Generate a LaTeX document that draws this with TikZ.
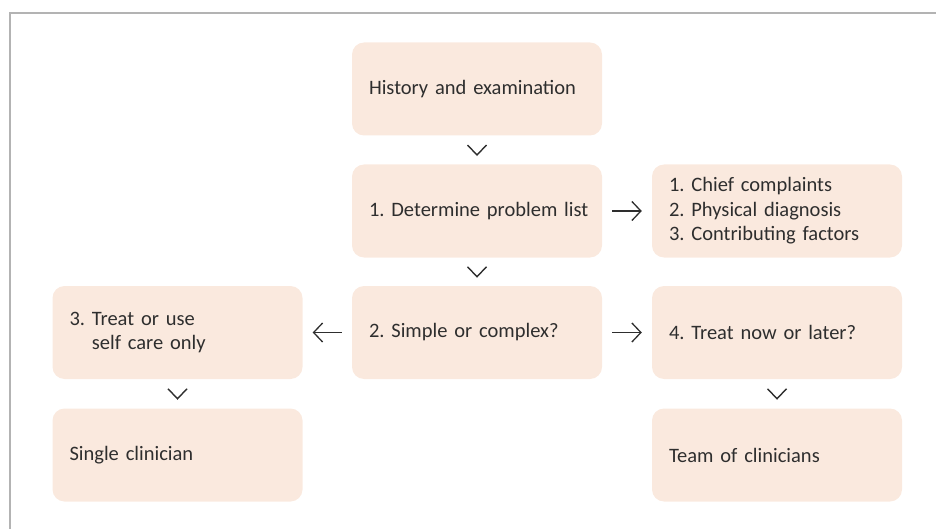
\documentclass[tikz,border=0pt]{standalone}
\usepackage{fontspec}
\setmainfont{Carlito}
\usetikzlibrary{arrows.meta,calc}
\definecolor{boxfill}{HTML}{FAE9DE}
\definecolor{ink}{HTML}{2E2E2E}
\definecolor{framegray}{HTML}{B3B3B3}
\frenchspacing
\begin{document}
\begin{tikzpicture}[x=1pt,y=-1pt,
  stepbox/.style={rectangle, rounded corners=12pt, fill=boxfill, draw=none,
    text width=216pt, inner xsep=17pt, inner ysep=0pt, minimum height=93pt,
    align=left, text=ink, font=\fontsize{20.5}{24.5}\selectfont\frenchspacing},
  harrow/.style={draw=ink, line width=1.3pt, -{Straight Barb[length=9pt,width=19pt,line width=1.3pt]},
    shorten <=10pt, shorten >=10pt},
  chev/.style={draw=ink, line width=1.4pt, line cap=butt, line join=miter}
]
\useasboundingbox (0,0) rectangle (936,529);
\draw[framegray, line width=1.6pt] (936,13) -- (10,13) -- (10,529);

\node[stepbox] (hist) at (477,89) {\mbox{History and examination}};
\node[stepbox] (prob) at (477,211) {\mbox{1. Determine problem list}};
\node[stepbox] (list) at (777,211) {\mbox{1. Chief complaints}\\\mbox{2. Physical diagnosis}\\\mbox{3. Contributing factors}};
\node[stepbox] (simp) at (477,332.5) {\mbox{2. Simple or complex?}};
\node[stepbox] (self) at (177.5,332.5) {\mbox{3. Treat or use}\\\mbox{\hphantom{3. }self care only}};
\node[stepbox] (now) at (777,332.5) {\mbox{4. Treat now or later?}};
\node[stepbox] (single) at (177.5,455) {\mbox{Single clinician}};
\node[stepbox] (team) at (777,455) {\mbox{Team of clinicians}};

\foreach \a/\b in {hist/prob, prob/simp, self/single, now/team}{
  \draw[chev] ($(\a.south)!.5!(\b.north)+(-9.5,-5)$) -- ++(9.5,10) -- ++(9.5,-10);
}
\draw[harrow] (prob.east) -- (list.west);
\draw[harrow] (simp.east) -- (now.west);
\draw[harrow] (simp.west) -- (self.east);
\end{tikzpicture}
\end{document}
